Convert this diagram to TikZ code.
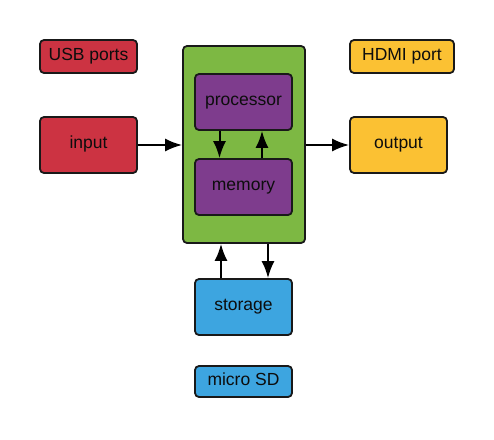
\documentclass[tikz,border=0pt]{standalone}
\usepackage{fontspec}
\setmainfont{Liberation Sans}
\usetikzlibrary{arrows.meta}
\definecolor{usbred}{HTML}{CC3342}
\definecolor{cpugreen}{HTML}{7DB843}
\definecolor{chippurple}{HTML}{7E3C8D}
\definecolor{outyellow}{HTML}{FBC133}
\definecolor{diskblue}{HTML}{3DA5E0}
\tikzstyle{block} = [rectangle, draw=black!90, line width=1.8pt, rounded corners=4pt,
    text=black!95, font=\fontsize{17.5}{20}\selectfont, minimum width=97pt, minimum height=56pt,
    text height=1.6ex, text depth=0.2ex]
\tikzstyle{tag} = [block, minimum height=33pt]
\tikzstyle{line} = [draw, line width=2pt, -{Latex[length=17pt,width=13pt]}]

\begin{document}
\begin{tikzpicture}[x=1pt, y=-1pt]
    \useasboundingbox[fill=white] (0,0) rectangle (494,439);
   % Place nodes
    \node [block, fill=cpugreen, minimum width=122pt, minimum height=197pt] (cpu) at (244,144.5) {};
    \node [tag, fill=usbred] (usb) at (88.5,56.5) {USB ports};
    \node [block, fill=usbred] (input) at (88.5,145) {input};
    \node [block, fill=chippurple] (proc) at (243.5,102) {processor};
    \node [block, fill=chippurple] (mem) at (243.5,187) {memory};
    \node [tag, fill=outyellow, minimum width=104pt] (hdmi) at (402,56.5) {HDMI port};
    \node [block, fill=outyellow] (output) at (398.5,145) {output};
    \node [block, fill=diskblue] (store) at (243.5,307) {storage};
    \node [tag, fill=diskblue, minimum height=31pt] (sd) at (243.5,381.5) {micro SD};
   % Draw edges
    \path [line] (input.east) -- (input.east -| cpu.west);
    \path [line] (output.west -| cpu.east) -- (output.west);
    \path [line] ([xshift=-24pt]proc.south) -- ([xshift=-24pt]mem.north);
    \path [line] ([xshift=18.5pt]mem.north) -- ([xshift=18.5pt]proc.south);
    \path [line] ([xshift=-22.5pt]store.north) -- ([xshift=-22.5pt]store.north |- cpu.south);
    \path [line] ([xshift=24.5pt]store.north |- cpu.south) -- ([xshift=24.5pt]store.north);
\end{tikzpicture}
\end{document}
